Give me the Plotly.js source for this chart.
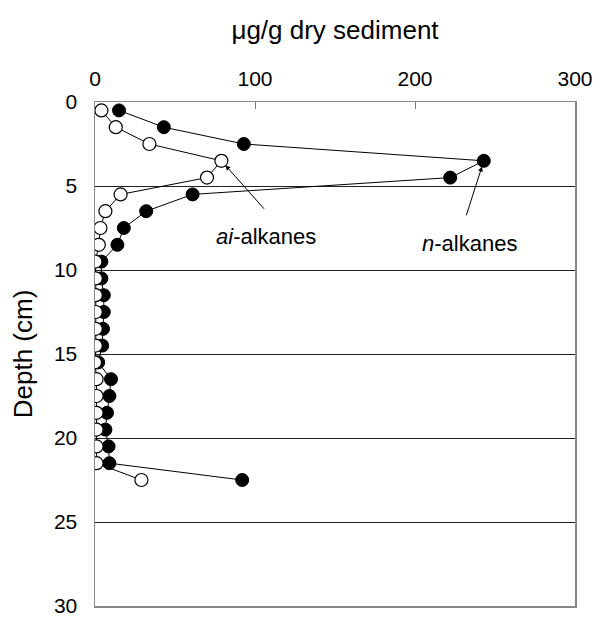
<!DOCTYPE html>
<html><head><meta charset="utf-8">
<script src="https://cdn.plot.ly/plotly-3.0.1.min.js"></script>
<style>body{margin:0;background:#fff}</style>
</head><body>
<div id="chart" style="width:593px;height:622px"></div>
<script>
const depth = [0.5,1.5,2.5,3.5,4.5,5.5,6.5,7.5,8.5,9.5,10.5,11.5,12.5,13.5,14.5,15.5,16.5,17.5,18.5,19.5,20.5,21.5,22.5];
const nAlkanes = [15,43,93,243,222,61,32,18,14,4,4,5.5,5.5,5,4.5,2,10,9,7.5,6.5,8.5,9,92];
const aiAlkanes = [4,13,34,79,70,16,6.5,3.4,2.4,0.3,0.5,0.5,0.5,0.5,0.5,0,1,1,1,1,1,1,29];
const xTicks = [0,100,200,300];
const yTicks = [0,5,10,15,20,25,30];
const labelN = '<i>n</i>-alkanes';
const labelAi = '<i>ai</i>-alkanes';

const traces = [
  {x:nAlkanes, y:depth, mode:'lines+markers', name:'n-alkanes',
   line:{color:'#000',width:1},
   marker:{size:13,color:'#000',line:{color:'#000',width:1}}},
  {x:aiAlkanes, y:depth, mode:'lines+markers', name:'ai-alkanes',
   line:{color:'#000',width:1},
   marker:{size:13,color:'#fff',line:{color:'#000',width:1.2}}}
];
const fam = 'Liberation Sans, Arial, sans-serif';
const layout = {
  width:593, height:622,
  margin:{l:94.5, r:17.5, t:101.7, b:16.3},
  paper_bgcolor:'#fff', plot_bgcolor:'#fff',
  showlegend:false,
  font:{family:fam, color:'#000'},
  xaxis:{side:'top', range:[0,300], tickvals:xTicks, ticktext:xTicks.map(String),
    ticks:'inside', ticklen:7, tickcolor:'#777', showgrid:false, zeroline:false,
    showline:true, linecolor:'#888', linewidth:1.5, mirror:true,
    tickfont:{size:21, family:fam, color:'#000'}, ticklabelstandoff:6,
    title:{text:'\u03bcg/g dry sediment', font:{size:26, family:fam, color:'#000'}, standoff:20}},
  yaxis:{range:[30,0], tickvals:yTicks, ticktext:yTicks.map(String),
    ticks:'', showgrid:true, gridcolor:'#222', gridwidth:1, zeroline:false,
    showline:true, linecolor:'#888', linewidth:1.5, mirror:true,
    tickfont:{size:21, family:fam, color:'#000'}, ticklabelstandoff:12,
    title:{text:'Depth (cm)', font:{size:26, family:fam, color:'#000'}, standoff:14}},
  annotations:[
    {x:aiAlkanes[3], y:depth[3], xref:'x', yref:'y', text:'',
     showarrow:true, arrowhead:2, arrowsize:1, arrowwidth:1, arrowcolor:'#000',
     ax:44, ay:49.5, standoff:6},
    {x:nAlkanes[3], y:depth[3], xref:'x', yref:'y', text:'',
     showarrow:true, arrowhead:2, arrowsize:1, arrowwidth:1, arrowcolor:'#000',
     ax:-18, ay:56, standoff:6},
    {x:107, y:8.0, xref:'x', yref:'y', text:labelAi, showarrow:false,
     font:{size:22, family:fam, color:'#000'}},
    {x:234.2, y:8.4, xref:'x', yref:'y', text:labelN, showarrow:false,
     font:{size:22, family:fam, color:'#000'}}
  ]
};
Plotly.newPlot('chart', traces, layout, {displayModeBar:false, staticPlot:true});
</script>
</body></html>
